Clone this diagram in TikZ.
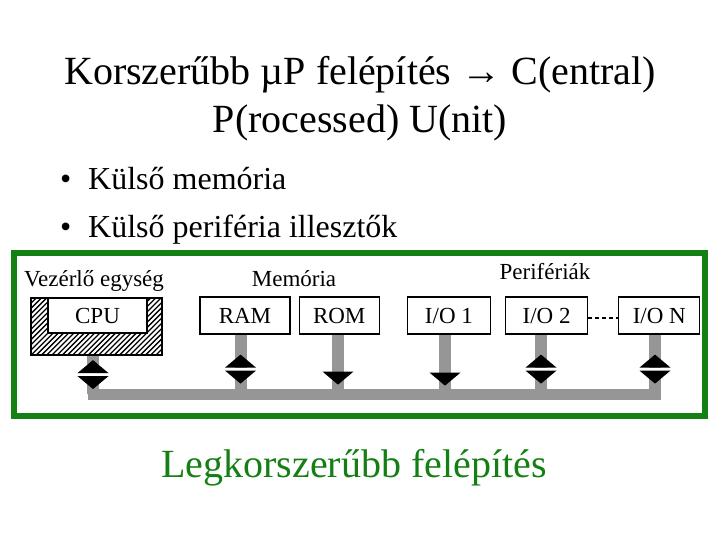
\documentclass[tikz,border=0pt]{standalone}
\usepackage{fontspec}
\setmainfont{Liberation Serif}
\usetikzlibrary{decorations.markings,positioning,backgrounds}
\definecolor{frgreen}{RGB}{20,128,20}
\definecolor{busgray}{RGB}{150,150,150}
\tikzset{
  unit/.style={
    draw,
    line width=1.2pt,
    fill=white,
    inner sep=0pt,
    minimum height=37pt,
    font=\fontsize{23}{27}\selectfont
  },
  head/.style={
    anchor=base,
    inner sep=0pt,
    font=\fontsize{23}{27}\selectfont
  },
  bul/.style={
    anchor=base west,
    inner sep=0pt,
    font=\fontsize{32}{38}\selectfont
  },
  stem/.style={
    draw=busgray,
    line width=12pt
  },
  bus/.style={
    draw=busgray,
    line width=11pt,
    line cap=rect
  },
}
\tikzset{
  onehead/.style={
    postaction={decorate,decoration={markings,
      mark=at position #1 with {\fill[black] (0pt,-15.5pt) -- (0pt,15.5pt) -- (13pt,0pt) -- cycle;}}}
  },
  twohead/.style={
    postaction={decorate,decoration={markings,
      mark=at position #1 with {\fill[white] (-1.5pt,-15.5pt) rectangle (1.5pt,15.5pt);
        \fill[black] (-1.5pt,-15.5pt) -- (-1.5pt,15.5pt) -- (-14.5pt,0pt) -- cycle;
        \fill[black] (1.5pt,-15.5pt) -- (1.5pt,15.5pt) -- (14.5pt,0pt) -- cycle;}}}
  },
}

\begin{document}
\begin{tikzpicture}[x=1pt,y=-1pt]
\useasboundingbox (0,0) rectangle (720,540);
\node[anchor=base, inner sep=0pt, font=\fontsize{40}{48}\selectfont] (title1) at (360,85)
  {Korszerűbb µP felépítés → C(entral)};
\node[anchor=base, inner sep=0pt, font=\fontsize{40}{48}\selectfont] (title2) at (360,133)
  {P(rocessed) U(nit)};
\node[bul] (dot1) at (60,190) {•};
\node[bul] (item1) at (88,190) {Külső memória};
\node[bul] (dot2) at (60,237) {•};
\node[bul] (item2) at (88,237) {Külső periféria illesztők};

% keret
\draw[frgreen, line width=6pt] (14,253) rectangle (705,415.5);
\node[head] (ctrl) at (94,286) {Vezérlő egység};
\node[head] (mem) at (294,286) {Memória};
\node[head] (peri) at (545,279) {Perifériák};

\node[draw, line width=1.2pt, inner sep=0pt, minimum width=131pt, minimum height=57pt] (cpubox) at (96.5,326.5) {};
\begin{scope}
\clip (cpubox.south west) rectangle (cpubox.north east);
\foreach \i in {0,...,37}
  \draw[line width=1.3pt] (\i*5.2-26,355) -- ++(57,-57);
\end{scope}
\node[unit, minimum width=99pt, minimum height=35pt] (cpu) at (97.5,315.5) {CPU};
\node[unit, minimum width=90pt] (ram) at (245,315.5) {RAM};
\node[unit, minimum width=80pt, right=8pt of ram] (rom) {ROM};
\node[unit, minimum width=83pt, right=27pt of rom] (ioa) {I/O 1};
\node[unit, minimum width=82pt, right=14pt of ioa] (iob) {I/O 2};
\node[unit, minimum width=81pt, right=30pt of iob] (ion) {I/O N};
\draw[line width=1.2pt, dash pattern=on 4pt off 3pt] ([yshift=-2.5pt]iob.east) -- ([yshift=-2.5pt]ion.west);

% sin
\coordinate (t1) at (93,394);
\coordinate (t2) at (240.5,394);
\coordinate (t3) at (338,394);
\coordinate (t4) at (445,394);
\coordinate (t5) at (541,394);
\coordinate (t6) at (655,394);
\begin{scope}[on background layer]
\draw[bus] (t1) -- (t6);
\draw[stem, twohead=19pt] (cpubox.south -| t1) -- (t1);
\draw[stem, twohead=34.5pt] (ram.south -| t2) -- (t2);
\draw[stem, onehead=37pt] (rom.south -| t3) -- (t3);
\draw[stem, onehead=38pt] (ioa.south -| t4) -- (t4);
\draw[stem, twohead=34.5pt] (iob.south -| t5) -- (t5);
\draw[stem, twohead=34.5pt] (ion.south -| t6) -- (t6);
\end{scope}

\node[anchor=base, inner sep=0pt, text=frgreen, font=\fontsize{40}{48}\selectfont] (best) at (354,477)
  {Legkorszerűbb felépítés};
\end{tikzpicture}
\end{document}
